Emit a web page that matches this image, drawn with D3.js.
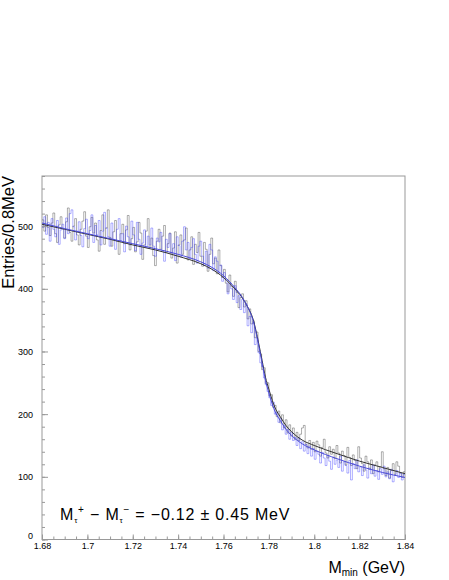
<!DOCTYPE html>
<html>
<head>
<meta charset="utf-8">
<script src="https://cdn.jsdelivr.net/npm/d3@7"></script>
<style>
body { margin: 0; background: #fff; }
svg { display: block; font-family: "Liberation Sans", Arial, sans-serif; }
</style>
</head>
<body>
<svg id="chart" width="449" height="580"></svg>
<script>
// histogram range and bin width (GeV)
var xMin = 1.68, xMax = 1.84, binWidth = 0.0008;

// M_tau+ histogram (entries per 0.8 MeV bin)
var histPlus = [
510, 492, 518, 498, 485, 505, 521, 488, 474, 502,
515, 496, 481, 507, 529, 490, 476, 500, 512, 486,
470, 495, 508, 523, 484, 466, 499, 514, 489, 505,
478, 460, 493, 518, 471, 497, 526, 482, 468, 491,
509, 476, 455, 488, 503, 472, 494, 517, 462, 480,
498, 459, 475, 506, 489, 447, 470, 492, 512, 466,
481, 453, 437, 476, 495, 463, 484, 501, 458, 472,
489, 449, 465, 491, 441, 470, 486, 455, 478, 497,
446, 462, 483, 439, 471, 458, 490, 452, 436, 474,
463, 428, 455, 481, 440, 449, 424, 462, 437, 418,
431, 409, 395, 422, 404, 388, 412, 394, 370, 386,
392, 371, 381, 352, 368, 344, 349, 322, 331, 300,
296, 271, 274, 249, 250, 229, 231, 211, 214, 196,
205, 186, 199, 178, 191, 170, 183, 165, 178, 160,
171, 158, 168, 178, 182, 152, 146, 158, 144, 155,
140, 157, 151, 133, 147, 160, 138, 130, 148, 136,
144, 129, 150, 138, 122, 141, 134, 119, 147, 131,
118, 135, 126, 113, 148, 130, 121, 109, 133, 124,
112, 127, 105, 119, 124, 108, 116, 140, 113, 102,
115, 98, 110, 121, 104, 124, 117, 106, 99, 108
];

// M_tau- histogram (entries per 0.8 MeV bin)
var histMinus = [
498, 515, 487, 506, 476, 512, 495, 483, 509, 471,
494, 503, 480, 513, 488, 520, 526, 499, 478, 492,
507, 485, 467, 496, 511, 480, 493, 518, 474, 501,
486, 509, 470, 492, 522, 497, 483, 468, 505, 479,
463, 495, 512, 477, 488, 459, 500, 483, 470, 508,
486, 461, 506, 479, 455, 473, 494, 466, 484, 470,
497, 468, 452, 481, 475, 490, 461, 444, 479, 466,
488, 457, 472, 445, 483, 469, 451, 476, 499, 462,
474, 448, 466, 480, 455, 441, 468, 476, 452, 437,
460, 433, 471, 462, 429, 451, 444, 425, 438, 412,
426, 414, 392, 409, 400, 383, 405, 378, 389, 367,
383, 362, 376, 341, 356, 330, 346, 311, 322, 298,
282, 276, 258, 247, 236, 226, 214, 219, 200, 203,
187, 193, 175, 182, 168, 176, 160, 171, 158, 163,
150, 162, 145, 156, 141, 152, 137, 149, 133, 145,
128, 141, 136, 122, 139, 130, 118, 134, 125, 112,
131, 120, 127, 115, 133, 109, 124, 118, 106, 126,
95, 121, 113, 127, 108, 116, 102, 119, 111, 98,
114, 105, 119, 101, 110, 96, 113, 104, 117, 100,
108, 97, 112, 92, 103, 110, 99, 106, 95, 104
];

// fit curves
var fitX = [1.680, 1.690, 1.700, 1.710, 1.720, 1.730, 1.740, 1.750, 1.755, 1.760,
            1.765, 1.768, 1.7705, 1.773, 1.7755, 1.777, 1.7785, 1.780, 1.7815, 1.783,
            1.785, 1.7875, 1.790, 1.795, 1.800, 1.810, 1.820, 1.830, 1.840];
var fitPlus = [503, 495, 487, 479, 470, 462, 452, 440, 431, 418,
               400, 387, 372, 352, 313, 286, 259, 240, 222, 208,
               196, 182, 172, 158, 150, 137, 125, 115, 105];
var fitMinus = [505, 496, 488, 480, 472, 464, 455, 443, 434, 421,
                402, 388, 372, 350, 310, 282, 254, 234, 216, 202,
                190, 176, 166, 152, 143, 129, 117, 107, 99];

var yTicks = [0, 100, 200, 300, 400, 500];
var xTicks = [1.68, 1.70, 1.72, 1.74, 1.76, 1.78, 1.80, 1.82, 1.84];
var xTickLabels = ["1.68", "1.7", "1.72", "1.74", "1.76", "1.78", "1.8", "1.82", "1.84"];

var svg = d3.select("#chart");
var plotLeft = 42, plotRight = 405, plotTop = 176, plotBottom = 539.5;

var x = d3.scaleLinear().domain([xMin, xMax]).range([plotLeft, plotRight]);
var y = d3.scaleLinear().domain([0, 580]).range([plotBottom, plotTop]);

// frame
svg.append("rect")
  .attr("x", plotLeft).attr("y", plotTop)
  .attr("width", plotRight - plotLeft).attr("height", plotBottom - plotTop)
  .attr("fill", "none").attr("stroke", "#999").attr("stroke-width", 1);

// step outline of a histogram
function stepPoints(vals) {
  var pts = [];
  vals.forEach(function(v, i) {
    pts.push([x(xMin + i * binWidth), y(v)]);
    pts.push([x(xMin + (i + 1) * binWidth), y(v)]);
  });
  return pts;
}
var line = d3.line();

svg.append("path")
  .attr("d", line(stepPoints(histPlus)))
  .attr("fill", "none").attr("stroke", "#000").attr("stroke-opacity", 0.4)
  .attr("stroke-width", 0.8);

svg.append("path")
  .attr("d", line(stepPoints(histMinus)))
  .attr("fill", "none").attr("stroke", "#3838ff").attr("stroke-opacity", 0.5)
  .attr("stroke-width", 0.8);

var fitLine = d3.line()
  .x(function(d) { return x(d[0]); })
  .y(function(d) { return y(d[1]); })
  .curve(d3.curveMonotoneX);

svg.append("path")
  .attr("d", fitLine(fitX.map(function(v, i) { return [v, fitPlus[i]]; })))
  .attr("fill", "none").attr("stroke", "#333").attr("stroke-width", 1);

svg.append("path")
  .attr("d", fitLine(fitX.map(function(v, i) { return [v, fitMinus[i]]; })))
  .attr("fill", "none").attr("stroke", "#4a4ad8").attr("stroke-width", 1);

// axes
var gx = svg.append("g").attr("transform", "translate(0," + plotBottom + ")");
gx.call(d3.axisBottom(x).tickValues(d3.range(1.68, 1.8401, 0.005)).tickSize(-3).tickFormat(""));
gx.append("g").call(d3.axisBottom(x).tickValues(xTicks).tickSize(-5).tickPadding(3)
  .tickFormat(function(d, i) { return xTickLabels[i]; }));

var gy = svg.append("g").attr("transform", "translate(" + plotLeft + ",0)");
gy.call(d3.axisLeft(y).tickValues(d3.range(0, 581, 20)).tickSize(-3).tickFormat(""));
gy.append("g").call(d3.axisLeft(y).tickValues(yTicks).tickSize(-6).tickPadding(9));

svg.selectAll(".domain").remove();
svg.selectAll(".tick line").attr("stroke", "#999");
svg.selectAll(".tick text").attr("font-size", 9).attr("fill", "#000")
  .attr("font-family", "Liberation Sans, Arial, sans-serif");
// the zero label sits a little above the x labels
gy.selectAll(".tick text").filter(function(d) { return d === 0; }).attr("dy", "-0.1em");

// titles
svg.append("text")
  .attr("transform", "translate(14," + plotTop + ") rotate(-90)")
  .attr("text-anchor", "end")
  .attr("font-size", 16.5)
  .text("Entries/0.8MeV");

var xt = svg.append("text")
  .attr("x", plotRight).attr("y", 573)
  .attr("text-anchor", "end")
  .attr("font-size", 16);
xt.append("tspan").text("M");
xt.append("tspan").attr("font-size", 10).attr("dy", 3).text("min");
xt.append("tspan").attr("dy", -3).text(" (GeV)");

var ann = svg.append("text")
  .attr("x", 60).attr("y", 520)
  .attr("font-size", 16)
  .attr("letter-spacing", 0.8);
ann.append("tspan").text("M");
ann.append("tspan").attr("font-size", 8).attr("dy", 3).text("τ");
ann.append("tspan").attr("font-size", 10).attr("dy", -10).text("+");
ann.append("tspan").attr("dy", 7).text(" − M");
ann.append("tspan").attr("font-size", 8).attr("dy", 3).text("τ");
ann.append("tspan").attr("font-size", 10).attr("dy", -10).text("−");
ann.append("tspan").attr("dy", 7).text(" = −0.12 ± 0.45 MeV");
</script>
</body>
</html>
